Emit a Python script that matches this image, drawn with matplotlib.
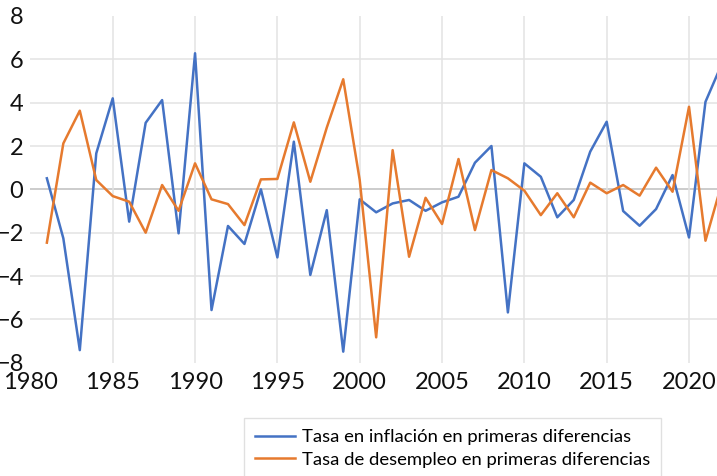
import matplotlib
matplotlib.use("Agg")
import matplotlib.pyplot as plt

years = list(range(1981, 2023))
inflacion = [0.51, -2.26, -7.42, 1.66, 4.2, -1.49, 3.07, 4.12, -2.03, 6.28,
             -5.57, -1.69, -2.52, 0.0, -3.14, 2.2, -3.95, -0.96, -7.49, -0.46,
             -1.06, -0.65, -0.49, -0.99, -0.6, -0.34, 1.23, 2.0, -5.68, 1.2,
             0.58, -1.29, -0.49, 1.74, 3.12, -1.0, -1.68, -0.91, 0.66, -2.22,
             4.04, 5.8]
desempleo = [-2.46, 2.12, 3.63, 0.43, -0.31, -0.57, -2.0, 0.2, -0.99, 1.2,
             -0.46, -0.68, -1.65, 0.46, 0.48, 3.09, 0.35, 2.85, 5.08, 0.43,
             -6.83, 1.81, -3.11, -0.39, -1.6, 1.4, -1.88, 0.89, 0.51, -0.06,
             -1.19, -0.18, -1.29, 0.31, -0.18, 0.2, -0.29, 1.0, -0.11, 3.81,
             -2.37, 0.3]
x_ticks = [1980, 1985, 1990, 1995, 2000, 2005, 2010, 2015, 2020]
y_ticks = [-8, -6, -4, -2, 0, 2, 4, 6, 8]
labels = ["Tasa en inflación en primeras diferencias",
          "Tasa de desempleo en primeras diferencias"]

plt.rcParams['font.family'] = ['Lato', 'DejaVu Sans']

W, H = 717, 476
fig = plt.figure(figsize=(W / 100, H / 100), dpi=100)
left, right, top, bottom = 30.4, 717, 16, 362.7
ax = fig.add_axes([left / W, 1 - bottom / H, (right - left) / W, (bottom - top) / H])

# gridlines (no line at the top/bottom or at 1980)
for v in y_ticks[1:-1]:
    ax.axhline(v, color='#bfbfbf' if v == 0 else '#e3e3e3', lw=1.1, zorder=0)
for v in x_ticks[1:]:
    ax.axvline(v, color='#e3e3e3', lw=1.1, zorder=0)

l1, = ax.plot(years, inflacion, color='#4472C4', lw=1.8, label=labels[0])
l2, = ax.plot(years, desempleo, color='#E67A2E', lw=1.8, label=labels[1])

ax.set_xlim(1980, 2021.7)
ax.set_ylim(-8, 8)
ax.set_xticks(x_ticks)
ax.set_yticks(y_ticks)
ax.tick_params(length=0, labelsize=17, colors='#111111')
ax.tick_params(axis='x', pad=7)
ax.tick_params(axis='y', pad=5)
for s in ax.spines.values():
    s.set_visible(False)

leg = fig.legend(handles=[l1, l2], loc='upper left',
                 bbox_to_anchor=(244 / W, 1 - 418 / H), fontsize=13.3,
                 frameon=True, fancybox=False, edgecolor='#d9d9d9',
                 handlelength=2.15, handletextpad=0.38, labelspacing=0.36,
                 borderpad=0.6, borderaxespad=0)

fig.savefig("out.png", dpi=100)
